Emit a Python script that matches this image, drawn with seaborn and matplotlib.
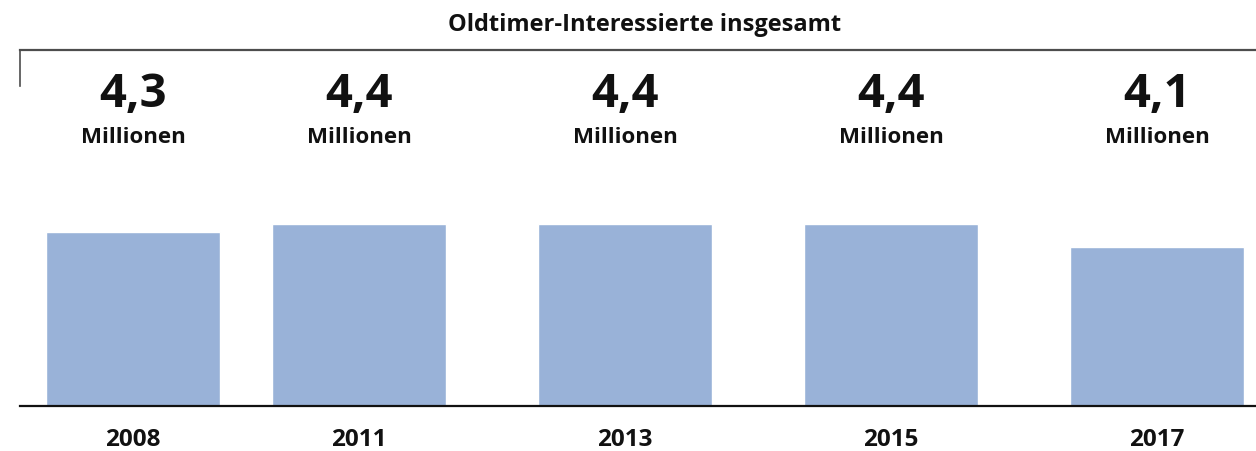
import matplotlib
matplotlib.use("Agg")
import matplotlib.pyplot as plt
import matplotlib.transforms as mtransforms
import seaborn as sns
import pandas as pd

# ---- data ----
years = ["2008", "2011", "2013", "2015", "2017"]
values = [4.3, 4.4, 4.4, 4.4, 4.1]
value_labels = ["4,3", "4,4", "4,4", "4,4", "4,1"]
unit_label = "Millionen"
title = "Oldtimer-Interessierte insgesamt"

# ---- layout ----
positions = [0.0, 0.85, 1.85, 2.85, 3.85]
bar_color = "#99B2D8"

sns.set_theme(style="white")
plt.rcParams["font.family"] = ["Open Sans", "DejaVu Sans"]

fig = plt.figure(figsize=(12.56, 4.52), dpi=100)
ax = fig.add_axes([20 / 1256, 45 / 452, 1236 / 1256, 356 / 452])

df = pd.DataFrame({"pos": positions, "value": values})
sns.barplot(data=df, x="pos", y="value", native_scale=True, color=bar_color,
            saturation=1, width=0.654 / 0.85, ax=ax, errorbar=None)

ax.set_xlim(-0.4248, 4.222)
ax.set_ylim(2.026, 6.669)
ax.set_xlabel("")
ax.set_ylabel("")
ax.set_yticks([])
ax.set_xticks(positions)
ax.set_xticklabels(years, fontsize=17.5, fontweight="bold", color="#111111")
ax.tick_params(axis="x", length=0, pad=15)

for s in ["right"]:
    ax.spines[s].set_visible(False)
ax.spines["bottom"].set_color("#111111")
ax.spines["bottom"].set_linewidth(1.6)
ax.spines["top"].set_color("#4d4d4d")
ax.spines["top"].set_linewidth(1.6)
ax.spines["left"].set_color("#4d4d4d")
ax.spines["left"].set_linewidth(1.2)
ax.spines["left"].set_bounds(6.2, 6.669)

trans = mtransforms.blended_transform_factory(ax.transData, ax.transAxes)
for p, lab in zip(positions, value_labels):
    ax.text(p, 0.877, lab, transform=trans, ha="center", va="center",
            fontsize=34, fontweight="bold", color="#111111")
    ax.text(p, 0.758, unit_label, transform=trans, ha="center", va="center",
            fontsize=16, fontweight="bold", color="#111111")

fig.text(645 / 1256, 1 - 25 / 452, title, ha="center", va="center",
         fontsize=17, fontweight="bold", color="#111111")

fig.savefig("out.png", dpi=100)
